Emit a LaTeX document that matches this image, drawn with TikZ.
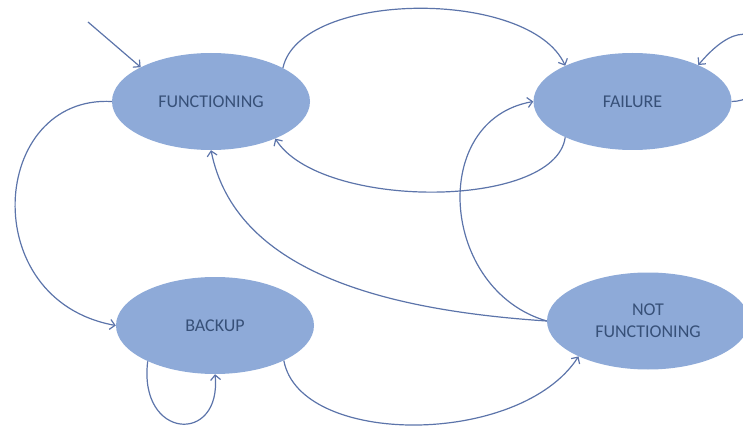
\documentclass[tikz,border=0pt]{standalone}
\usepackage{fontspec}
\setmainfont{Carlito}
\usetikzlibrary{arrows.meta,shapes.geometric}
\definecolor{efill}{RGB}{142,170,216}
\definecolor{eline}{RGB}{92,116,170}
\definecolor{etext}{RGB}{55,80,120}
\begin{document}
\begin{tikzpicture}[x=1pt,y=-1pt,
  state/.style={ellipse, fill=efill, draw=none, inner sep=0pt, text=etext,
    font=\fontsize{18}{22}\selectfont, align=center,
    minimum width=198pt, minimum height=97pt},
  link/.style={draw=eline, line width=1.2pt, -{Straight Barb[length=5pt,width=10pt]}}]
\useasboundingbox (0,0) rectangle (743,430);
\clip (0,0) rectangle (743,430);
\node[state] (func) at (211,101.5) {FUNCTIONING};
\node[state] (fail) at (632.5,101.5) {FAILURE};
\node[state] (back) at (215,325.5) {BACKUP};
\node[state, minimum width=202pt] (nf) at (648,321) {NOT\\FUNCTIONING};
\coordinate (init) at (88,22);
\draw[link] (init) -- (func.154);
\draw[link] (func.25) .. controls (300,-10) and (530,-12) .. (fail.152);
\draw[link] (fail.208) .. controls (555,210) and (320,210) .. (func.330);
\draw[link] (nf.west) .. controls (380,310) and (235,270) .. (func.270);
\draw[link] (nf.west) .. controls (440,290) and (428,120) .. (fail.west);
\draw[link] (func.west) .. controls (-10,95) and (-25,300) .. (back.west);
\draw[link] (back.208) .. controls (138,440) and (222,445) .. (back.270);
\draw[link] (back.333) .. controls (300,447) and (520,447) .. (nf.207);
\draw[link] (fail.east) .. controls (790,101) and (770,-20) .. (fail.29);
\end{tikzpicture}
\end{document}
